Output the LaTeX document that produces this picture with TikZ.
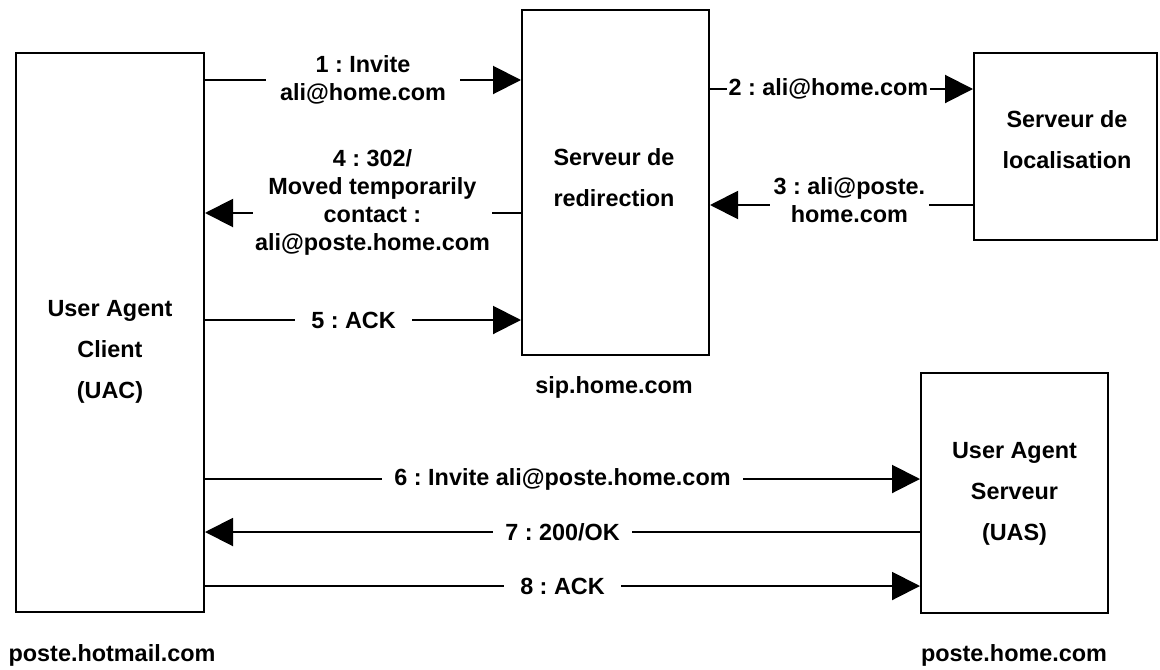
\documentclass[tikz,border=0pt]{standalone}
\usepackage{fontspec}
\setmainfont{Liberation Sans}
\usetikzlibrary{arrows.meta}
\frenchspacing

\begin{document}
\begin{tikzpicture}[x=0.5pt, y=-0.5pt, line width=1pt,
    >={Triangle[length=14pt, width=14pt]},
    boite/.style={draw, inner sep=0pt},
    txt/.style={align=center, font=\bfseries\fontsize{11.7}{20.5}\selectfont},
    msg/.style={fill=white, align=center, inner xsep=7pt, inner ysep=1pt,
                font=\bfseries\fontsize{11.7}{14}\selectfont}]
\useasboundingbox (0,0) rectangle (1160,669);
% les boites
\node[boite, minimum width=94pt, minimum height=279.5pt] (uac) at (110,332.5) {};
\node[boite, minimum width=93.5pt, minimum height=172.5pt] (redir) at (615.5,182.5) {};
\node[boite, minimum width=91.5pt, minimum height=93.5pt] (loc) at (1065.5,146.5) {};
\node[boite, minimum width=93.5pt, minimum height=120pt] (uas) at (1014.5,493) {};
\node[txt] (uactxt) at (110,352) {User Agent\\Client\\(UAC)};
\node[txt] (redirtxt) at (614,177.5) {Serveur de\\redirection};
\node[txt] (loctxt) at (1067,140) {Serveur de\\localisation};
\node[txt] (uastxt) at (1014.5,494) {User Agent\\Serveur\\(UAS)};
% les noms de machines
\node[txt] (uacnom) at (112,655) {poste.hotmail.com};
\node[txt] (redirnom) at (614,387) {sip.home.com};
\node[txt] (uasnom) at (1014,655) {poste.home.com};
% les messages
\draw[->] (uac.east |- 0,80) -- (redir.west |- 0,80)
    node[midway, msg] (m1) {1 : Invite\\ali@home.com};
\draw[->] (redir.east |- 0,89) -- (loc.west |- 0,89)
    node[pos=.45, msg, inner xsep=1pt] (m2) {2 : ali@home.com};
\draw[->] (loc.west |- 0,205) -- (redir.east |- 0,205)
    node[pos=.47, msg, inner xsep=2pt, yshift=2.5pt] (m3) {3 : ali@poste.\\home.com};
\draw[->] (redir.west |- 0,213) -- (uac.east |- 0,213)
    node[pos=.47, msg, inner xsep=1pt, yshift=5.5pt] (m4) {4 : 302/\\Moved temporarily\\contact :\\ali@poste.home.com};
\draw[->] (uac.east |- 0,320) -- (redir.west |- 0,320)
    node[pos=.47, msg, inner xsep=8pt] (m5) {5 : ACK};
\draw[->] (uac.east |- 0,479) -- (uas.west |- 0,479)
    node[midway, msg, inner xsep=6pt] (m6) {6 : Invite ali@poste.home.com};
\draw[->] (uas.west |- 0,532) -- (uac.east |- 0,532)
    node[midway, msg, inner xsep=6pt] (m7) {7 : 200/OK};
\draw[->] (uac.east |- 0,586) -- (uas.west |- 0,586)
    node[midway, msg, inner xsep=8pt] (m8) {8 : ACK};
\end{tikzpicture}
\end{document}
